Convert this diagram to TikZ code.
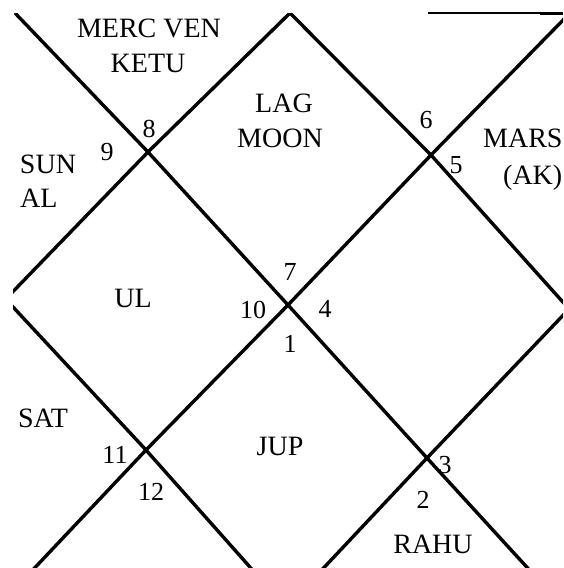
\documentclass[tikz,border=0pt]{standalone}
\usepackage{fontspec}
\setmainfont{Liberation Serif}
\begin{document}
\begin{tikzpicture}[x=1pt,y=-1pt,
  chartline/.style={line width=3.4pt,line join=miter},
  lbl/.style={anchor=base,inner sep=0pt,font=\fontsize{28}{30}\selectfont},
  num/.style={anchor=base,inner sep=0pt,font=\fontsize{26}{28}\selectfont}]
\useasboundingbox (0,0) rectangle (563,568);
\begin{scope}
\clip (13,13) rectangle (563,568);
\draw[chartline] (15,13) -- (148,152) -- (288,305) -- (427,458) -- (534,575);
\draw[chartline] (570,13) -- (431,155) -- (288,305) -- (146,450) -- (28,575);
\draw[chartline] (0,305) -- (148,152) -- (290,13) -- (431,155) -- (570,310);
\draw[chartline] (0,293) -- (146,450) -- (257,575);
\draw[chartline] (570,308) -- (427,458) -- (317,575);
\end{scope}
\coordinate (fa) at (428,13);
\coordinate (fb) at (540,13);
\coordinate (fc) at (563,13);
\draw[line width=1.2pt] (fa) -- (fc);
\draw[line width=3pt] (fb) -- (fc);
% house texts
\node[lbl] (merc) at (149,37) {MERC VEN};
\node[lbl] (ketu) at (148,72) {KETU};
\node[lbl] (lag) at (284,112) {LAG};
\node[lbl] (moon) at (280,147) {MOON};
\node[lbl] (sun) at (48,173) {SUN};
\node[lbl,anchor=base west] (al) at (20,207) {AL};
\node[lbl,anchor=base west] (mars) at (483,147) {MARS};
\node[lbl,anchor=base west] (ak) at (503,184) {(AK)};
\node[lbl] (ul) at (133,307) {UL};
\node[lbl] (sat) at (43,427) {SAT};
\node[lbl] (jup) at (280,455) {JUP};
\node[lbl] (rahu) at (433,553) {RAHU};
% house numbers
\node[num] (n8) at (149,137) {8};
\node[num] (n9) at (107,160) {9};
\node[num] (n6) at (426,128) {6};
\node[num] (n5) at (456,173) {5};
\node[num] (n7) at (290,280) {7};
\node[num] (n10) at (253,318) {10};
\node[num] (n4) at (325,317) {4};
\node[num] (n1) at (290,352) {1};
\node[num] (n11) at (115,463) {11};
\node[num] (n12) at (151,500) {12};
\node[num] (n3) at (445,473) {3};
\node[num] (n2) at (423,508) {2};
\end{tikzpicture}
\end{document}
